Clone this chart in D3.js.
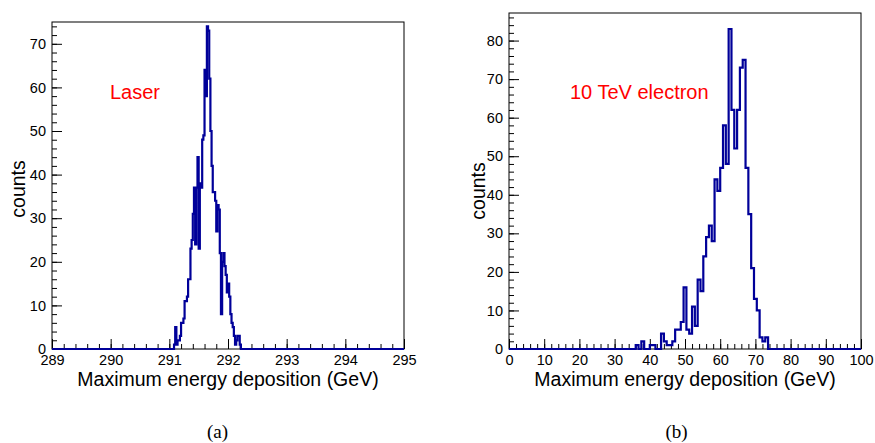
<!DOCTYPE html>
<meta charset="utf-8">
<html>
<head>
<style>
  body { margin: 0; background: #fff; }
  text { font-family: "Liberation Sans", Arial, sans-serif; }
</style>
<script src="https://d3js.org/d3.v7.min.js"></script>
</head>
<body>
<script>

// (a) laser: bins of 0.02 GeV starting at 291.08
var laserStart = 291.08;
var laserBinWidth = 0.02;
var laserCounts = [1, 5, 1, 2, 2, 3, 6, 6, 7, 11, 11, 12, 16, 16, 23, 25, 31, 37, 24, 37,
                   44, 23, 38, 37, 48, 49, 64, 58, 74, 73, 62, 50, 42, 36, 36, 34, 27, 33, 32, 22,
                   8, 20, 22, 19, 17, 13, 15, 12, 8, 6, 5, 3, 1, 2, 3, 3, 1];
var laserXTicks = [289, 290, 291, 292, 293, 294, 295];
var laserYTicks = [0, 10, 20, 30, 40, 50, 60, 70];

// (b) 10 TeV electron: bins of 0.8 GeV starting at 36.0
var electronStart = 36.0;
var electronBinWidth = 0.8;
var electronCounts = [1, 0, 2, 0, 0, 1, 1, 0, 0, 4, 2, 1, 1, 2, 5, 5, 7, 16, 5, 4,
                      11, 6, 18, 15, 24, 29, 32, 28, 44, 41, 47, 58, 48, 83, 62, 52, 62, 73, 75, 47,
                      35, 21, 13, 10, 3, 2, 3];
var electronXTicks = [0, 10, 20, 30, 40, 50, 60, 70, 80, 90, 100];
var electronYTicks = [0, 10, 20, 30, 40, 50, 60, 70, 80];

var svg = d3.select("body").append("svg")
    .attr("width", 875)
    .attr("height", 443);

function drawPanel(p) {
    var x = d3.scaleLinear().domain(p.xDomain).range([p.left, p.right]);
    var y = d3.scaleLinear().domain([0, p.yMax]).range([p.bottom, p.top]);
    var g = svg.append("g");

    // minor ticks first (x then y)
    var xMinor = d3.range(p.xDomain[0], p.xDomain[1] + 1e-9, p.xMinorStep);
    var yMinor = d3.range(0, p.yMax, p.yMinorStep);

    g.append("g")
        .attr("transform", "translate(0," + p.bottom + ")")
        .call(d3.axisBottom(x).tickValues(xMinor).tickSize(-5).tickFormat(""))
        .call(function(a) { a.select(".domain").remove(); });
    g.append("g")
        .attr("transform", "translate(" + p.left + ",0)")
        .call(d3.axisLeft(y).tickValues(yMinor).tickSize(-5).tickFormat(""))
        .call(function(a) { a.select(".domain").remove(); });

    // major ticks + labels
    var xAxis = g.append("g")
        .attr("transform", "translate(0," + p.bottom + ")")
        .call(d3.axisBottom(x).tickValues(p.xTicks).tickFormat(d3.format("d"))
            .tickSizeInner(-10).tickSizeOuter(0).tickPadding(6));
    var yAxis = g.append("g")
        .attr("transform", "translate(" + p.left + ",0)")
        .call(d3.axisLeft(y).tickValues(p.yTicks).tickFormat(d3.format("d"))
            .tickSizeInner(-10).tickSizeOuter(0).tickPadding(6));
    [xAxis, yAxis].forEach(function(a) {
        a.select(".domain").remove();
        a.attr("font-size", null).attr("font-family", null);
        a.selectAll("text").style("font-size", "14.5px").attr("fill", "#000");
    });
    g.selectAll(".tick line").attr("stroke", "#000");

    // frame
    g.append("rect")
        .attr("x", p.left).attr("y", p.top)
        .attr("width", p.right - p.left).attr("height", p.bottom - p.top)
        .attr("fill", "none").attr("stroke", "#000").attr("stroke-width", 1);

    // histogram outline, drawn across the whole range like ROOT does
    var pts = [[p.xDomain[0], 0], [p.start, 0]];
    p.counts.forEach(function(c, i) {
        pts.push([p.start + i * p.binWidth, c]);
        pts.push([p.start + (i + 1) * p.binWidth, c]);
    });
    pts.push([p.start + p.counts.length * p.binWidth, 0]);
    pts.push([p.xDomain[1], 0]);

    g.append("path")
        .datum(pts)
        .attr("fill", "none")
        .attr("stroke", "#000099")
        .attr("stroke-width", 2.2)
        .attr("d", d3.line().x(function(d) { return x(d[0]); }).y(function(d) { return y(d[1]); }));

    // titles
    g.append("text")
        .attr("x", (p.left + p.right) / 2)
        .attr("y", 386)
        .attr("text-anchor", "middle")
        .style("font-size", "19.5px")
        .text("Maximum energy deposition (GeV)");

    g.append("text")
        .attr("transform", "translate(" + p.yTitleX + "," + p.yTitleY + ") rotate(-90)")
        .attr("text-anchor", "middle")
        .style("font-size", "19.5px")
        .text("counts");

    g.append("text")
        .attr("x", p.labelX)
        .attr("y", 99)
        .attr("fill", "#ff0000")
        .style("font-size", "20px")
        .text(p.label);

    g.append("text")
        .attr("x", p.captionX)
        .attr("y", 438)
        .attr("text-anchor", "middle")
        .style("font-family", "'Liberation Serif', 'DejaVu Serif', serif")
        .style("font-size", "19px")
        .text(p.caption);
}

drawPanel({
    left: 52, right: 404, top: 22, bottom: 349,
    xDomain: [289, 295], yMax: 75,
    xTicks: laserXTicks, yTicks: laserYTicks,
    xMinorStep: 0.2, yMinorStep: 2,
    start: laserStart, binWidth: laserBinWidth, counts: laserCounts,
    yTitleX: 25, yTitleY: 189,
    label: "Laser", labelX: 110,
    caption: "(a)", captionX: 217.5
});

drawPanel({
    left: 509, right: 861, top: 13, bottom: 349,
    xDomain: [0, 100], yMax: 87.15,
    xTicks: electronXTicks, yTicks: electronYTicks,
    xMinorStep: 2, yMinorStep: 2,
    start: electronStart, binWidth: electronBinWidth, counts: electronCounts,
    yTitleX: 485, yTitleY: 191,
    label: "10 TeV electron", labelX: 570,
    caption: "(b)", captionX: 676.5
});

</script>
</body>
</html>
